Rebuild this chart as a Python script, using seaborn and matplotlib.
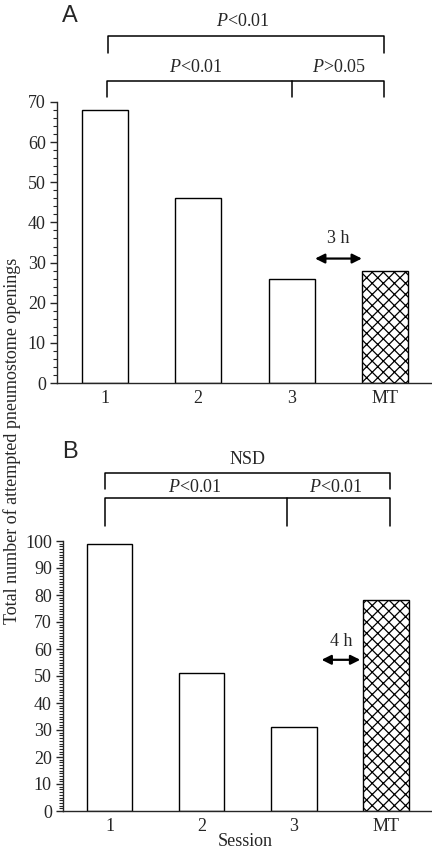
import matplotlib
matplotlib.use("Agg")
import matplotlib.pyplot as plt
import matplotlib.transforms as mtransforms
from matplotlib.ticker import MultipleLocator
import pandas as pd
import seaborn as sns

# datos
sesiones = ["1", "2", "3", "MT"]
valores_a = [68, 46, 26, 28]
valores_b = [99, 51, 31, 78]
etiqueta_y = "Total number of attempted pneumostome openings"
etiqueta_x = "Session"

sns.set_style("ticks")
plt.rcParams["font.family"] = ["Liberation Serif", "DejaVu Serif"]
plt.rcParams["mathtext.fontset"] = "custom"
plt.rcParams["mathtext.rm"] = "Liberation Serif"
plt.rcParams["mathtext.it"] = "Liberation Serif:italic"
plt.rcParams["hatch.linewidth"] = 0.9
plt.rcParams["axes.linewidth"] = 1.0

fig = plt.figure(figsize=(4.32, 8.5), dpi=100)
W, H = 432.0, 850.0
FS = 13


def eje(px_izq, px_arriba, px_abajo):
    return fig.add_axes([px_izq / W, 1 - px_abajo / H, 1 - px_izq / W, (px_abajo - px_arriba) / H])


def barras(ax, valores, ymax, menor):
    df = pd.DataFrame({"Session": sesiones, "valor": valores})
    sns.barplot(data=df, x="Session", y="valor", ax=ax, color="white",
                edgecolor="black", linewidth=1.0, width=0.49, saturation=1)
    ax.patches[-1].set_hatch("xxx")
    ax.set_ylim(0, ymax)
    ax.set_xlim(-0.51, 3.5)
    ax.yaxis.set_major_locator(MultipleLocator(10))
    ax.yaxis.set_minor_locator(MultipleLocator(menor))
    ax.tick_params(axis="y", which="major", length=5, width=1, labelsize=FS, pad=3)
    ax.tick_params(axis="y", which="minor", length=3, width=0.8)
    ax.tick_params(axis="x", length=0, labelsize=FS, pad=5)
    ax.set_xlabel("")
    ax.set_ylabel("")
    sns.despine(ax=ax)


def corchete(ax, x0, x1, y_h, y_v, xm=None):
    tr = mtransforms.blended_transform_factory(ax.transData, fig.transFigure)
    yh, yv = 1 - y_h / H, 1 - y_v / H
    ax.plot([x0, x0, x1, x1], [yv, yh, yh, yv], color="black", lw=1.1,
            transform=tr, clip_on=False)
    if xm is not None:
        ax.plot([xm, xm], [yh, yv], color="black", lw=1.1, transform=tr, clip_on=False)


def texto(ax, x, y_px, s):
    tr = mtransforms.blended_transform_factory(ax.transData, fig.transFigure)
    ax.text(x, 1 - y_px / H, s, transform=tr, ha="center", va="center",
            fontsize=FS, clip_on=False)


def flecha(ax, x0, x1, y):
    ax.annotate("", xy=(x1, y), xytext=(x0, y),
                arrowprops=dict(arrowstyle="<|-|>", color="black", lw=1.6,
                                mutation_scale=14, shrinkA=0, shrinkB=0))


# Panel A
ax_a = eje(57, 102, 383)
barras(ax_a, valores_a, 70, 2)
corchete(ax_a, 0.04, 2.99, 36, 53)
corchete(ax_a, 0.03, 2.99, 81, 97, xm=2.0)
texto(ax_a, 1.48, 22, r"$P$<0.01")
texto(ax_a, 0.97, 68, r"$P$<0.01")
texto(ax_a, 2.51, 68, r"$P$>0.05")
flecha(ax_a, 2.25, 2.75, 31)
ax_a.text(2.5, 34, "3 h", ha="center", va="bottom", fontsize=FS)
fig.text(70 / W, 1 - 16 / H, "A", fontsize=17, family="Liberation Sans",
         ha="center", va="center")

# Panel B
ax_b = eje(63, 541, 811)
barras(ax_b, valores_b, 100, 1)
corchete(ax_b, -0.05, 3.04, 473, 489)
corchete(ax_b, -0.05, 3.04, 498, 526, xm=1.92)
texto(ax_b, 1.5, 460, "NSD")
texto(ax_b, 0.92, 488, r"$P$<0.01")
texto(ax_b, 2.45, 488, r"$P$<0.01")
flecha(ax_b, 2.3, 2.72, 56)
ax_b.text(2.51, 59.5, "4 h", ha="center", va="bottom", fontsize=FS)
fig.text(70 / W, 1 - 452 / H, "B", fontsize=17, family="Liberation Sans",
         ha="center", va="center")

fig.text(12 / W, 1 - 441 / H, etiqueta_y, rotation=90, ha="center", va="center", fontsize=13)
fig.text(245 / W, 1 - 841 / H, etiqueta_x, ha="center", va="center", fontsize=13)

fig.savefig("out.png", dpi=100)
